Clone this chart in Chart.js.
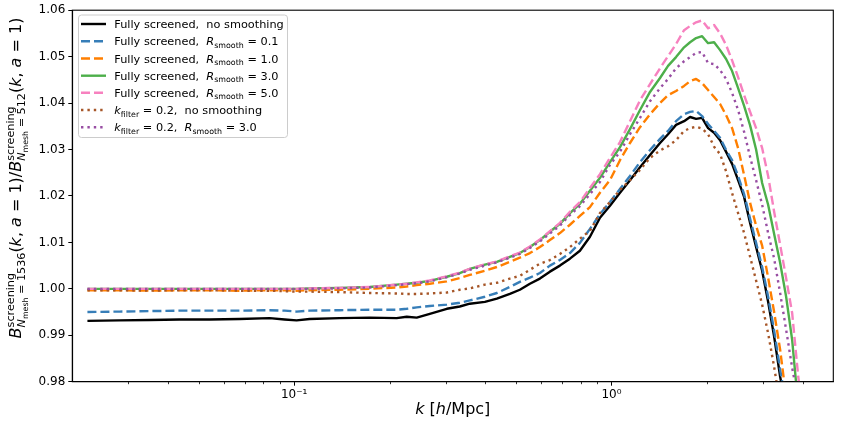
<!DOCTYPE html>
<html><head><meta charset="utf-8">
<script src="https://cdn.jsdelivr.net/npm/chart.js@4.4.1/dist/chart.umd.min.js"></script>
<style>html,body{margin:0;padding:0;background:#fff;}#wrap{width:842px;height:421px;position:relative;}</style>
</head><body><div id="wrap"><canvas id="c" width="842" height="421"></canvas></div>
<script>
// ---- data ----
const kValues = [0.02232, 0.02815, 0.03501, 0.04352, 0.05412, 0.06731, 0.08371, 0.09333, 0.1018, 0.1119,
  0.1391, 0.1730, 0.2105, 0.2264, 0.2434, 0.2676, 0.3028, 0.3327, 0.3577, 0.3991,
  0.4353, 0.4784, 0.5144, 0.5533, 0.5949, 0.6397, 0.6879, 0.7398, 0.7954, 0.8554,
  0.9199, 0.9892, 1.0636, 1.1438, 1.2300, 1.3227, 1.4223, 1.5075, 1.5975, 1.6934,
  1.7687, 1.8475, 1.9299, 2.0157, 2.1055, 2.1991, 2.2970, 2.3992, 2.5060, 2.6176,
  2.7341, 2.8556, 2.9836, 3.1163, 3.2550, 3.3998, 3.5511, 3.7093, 3.8745, 4.0483];

const fullyNoSmooth = [0.9931, 0.9932, 0.9933, 0.9934, 0.9934, 0.9935, 0.9937, 0.9934, 0.9932, 0.9935,
  0.9937, 0.9938, 0.9937, 0.9940, 0.9938, 0.9946, 0.9957, 0.9962, 0.9968, 0.9972,
  0.9979, 0.9989, 0.9998, 1.0011, 1.0022, 1.0037, 1.0050, 1.0065, 1.0082, 1.0112,
  1.0153, 1.0179, 1.0207, 1.0234, 1.0262, 1.0288, 1.0314, 1.0333, 1.0353, 1.0361,
  1.0370, 1.0366, 1.0368, 1.0346, 1.0336, 1.0320, 1.0295, 1.0269, 1.0234, 1.0198,
  1.0142, 1.0090, 1.0039, 0.9972, 0.9897, 0.9811, 0.9740, 0.9680, 0.9620, 0.9560];

const fullyR01 = [0.9950, 0.9951, 0.9952, 0.9953, 0.9953, 0.9953, 0.9954, 0.9953, 0.9951, 0.9953,
  0.9954, 0.9955, 0.9955, 0.9957, 0.9960, 0.9963, 0.9966, 0.9970, 0.9975, 0.9983,
  0.9991, 1.0004, 1.0015, 1.0024, 1.0034, 1.0050, 1.0062, 1.0077, 1.0099, 1.0129,
  1.0161, 1.0187, 1.0215, 1.0243, 1.0273, 1.0299, 1.0323, 1.0340, 1.0361, 1.0376,
  1.0381, 1.0383, 1.0372, 1.0355, 1.0340, 1.0325, 1.0299, 1.0277, 1.0243, 1.0204,
  1.0151, 1.0099, 1.0047, 0.9983, 0.9910, 0.9826, 0.9751, 0.9690, 0.9630, 0.9570];

const fullyR10 = [0.9997, 0.9997, 0.9996, 0.9997, 0.9997, 0.9996, 0.9997, 0.9997, 0.9996, 0.9997,
  0.9998, 1.0000, 1.0003, 1.0005, 1.0008, 1.0011, 1.0016, 1.0023, 1.0030, 1.0039,
  1.0047, 1.0058, 1.0067, 1.0077, 1.0090, 1.0105, 1.0120, 1.0138, 1.0157, 1.0176,
  1.0207, 1.0234, 1.0277, 1.0314, 1.0348, 1.0376, 1.0400, 1.0417, 1.0426, 1.0437,
  1.0447, 1.0452, 1.0443, 1.0428, 1.0413, 1.0398, 1.0374, 1.0346, 1.0303, 1.0245,
  1.0185, 1.0136, 1.0093, 1.0024, 0.9950, 0.9869, 0.9766, 0.9700, 0.9640, 0.9580];

const fullyR30 = [1.0000, 1.0000, 1.0000, 1.0000, 1.0000, 1.0000, 1.0000, 1.0000, 1.0000, 1.0001,
  1.0002, 1.0004, 1.0009, 1.0011, 1.0013, 1.0017, 1.0026, 1.0034, 1.0043, 1.0052,
  1.0058, 1.0069, 1.0077, 1.0090, 1.0105, 1.0123, 1.0140, 1.0163, 1.0183, 1.0211,
  1.0239, 1.0273, 1.0305, 1.0344, 1.0385, 1.0424, 1.0454, 1.0480, 1.0499, 1.0520,
  1.0531, 1.0540, 1.0544, 1.0529, 1.0531, 1.0514, 1.0495, 1.0469, 1.0432, 1.0394,
  1.0352, 1.0300, 1.0228, 1.0181, 1.0118, 1.0056, 0.9983, 0.9890, 0.9750, 0.9680];

const fullyR50 = [1.0000, 1.0000, 1.0000, 1.0000, 1.0000, 1.0000, 1.0000, 1.0000, 1.0000, 1.0001,
  1.0002, 1.0004, 1.0009, 1.0011, 1.0014, 1.0018, 1.0027, 1.0035, 1.0043, 1.0053,
  1.0059, 1.0070, 1.0078, 1.0091, 1.0106, 1.0124, 1.0142, 1.0166, 1.0187, 1.0217,
  1.0247, 1.0282, 1.0316, 1.0361, 1.0406, 1.0441, 1.0475, 1.0501, 1.0527, 1.0557,
  1.0566, 1.0574, 1.0578, 1.0561, 1.0568, 1.0550, 1.0525, 1.0492, 1.0456, 1.0417,
  1.0381, 1.0346, 1.0303, 1.0243, 1.0166, 1.0095, 1.0023, 0.9948, 0.9813, 0.9700];

const filterNoSmooth = [0.9997, 0.9997, 0.9996, 0.9997, 0.9997, 0.9996, 0.9996, 0.9995, 0.9994, 0.9994,
  0.9993, 0.9991, 0.9990, 0.9989, 0.9989, 0.9990, 0.9992, 0.9998, 1.0001, 1.0009,
  1.0013, 1.0022, 1.0028, 1.0041, 1.0054, 1.0062, 1.0075, 1.0090, 1.0108, 1.0125,
  1.0163, 1.0187, 1.0213, 1.0234, 1.0256, 1.0282, 1.0298, 1.0307, 1.0320, 1.0340,
  1.0346, 1.0349, 1.0345, 1.0333, 1.0306, 1.0290, 1.0253, 1.0206, 1.0163, 1.0120,
  1.0069, 1.0018, 0.9966, 0.9904, 0.9832, 0.9750, 0.9700, 0.9650, 0.9600, 0.9550];

const filterR30 = [1.0000, 1.0000, 1.0000, 1.0000, 1.0000, 1.0000, 1.0000, 1.0000, 1.0000, 1.0000,
  1.0001, 1.0003, 1.0008, 1.0010, 1.0012, 1.0016, 1.0025, 1.0033, 1.0041, 1.0050,
  1.0057, 1.0067, 1.0075, 1.0088, 1.0102, 1.0119, 1.0136, 1.0159, 1.0178, 1.0204,
  1.0230, 1.0267, 1.0295, 1.0333, 1.0368, 1.0404, 1.0432, 1.0452, 1.0475, 1.0490,
  1.0499, 1.0508, 1.0510, 1.0486, 1.0484, 1.0471, 1.0452, 1.0422, 1.0385, 1.0338,
  1.0284, 1.0234, 1.0181, 1.0120, 1.0065, 0.9991, 0.9912, 0.9830, 0.9761, 0.9700];

const seriesNames = [
  'Fully screened, no smoothing',
  'Fully screened, R_smooth = 0.1',
  'Fully screened, R_smooth = 1.0',
  'Fully screened, R_smooth = 3.0',
  'Fully screened, R_smooth = 5.0',
  'k_filter = 0.2, no smoothing',
  'k_filter = 0.2, R_smooth = 3.0'
];
const seriesValues = [fullyNoSmooth, fullyR01, fullyR10, fullyR30, fullyR50, filterNoSmooth, filterR30];

const yTickValues = [0.98, 0.99, 1.00, 1.01, 1.02, 1.03, 1.04, 1.05, 1.06];
const xMajorTicks = [0.1, 1];
const xMajorLabels = ['10\u207B\u00B9', '10\u2070'];
const xMinorTicks = [0.03, 0.04, 0.05, 0.06, 0.07, 0.08, 0.09, 0.2, 0.3, 0.4, 0.5, 0.6, 0.7, 0.8, 0.9, 2, 3, 4];

// ---- styles ----
const colors = ['#000000', '#377eb8', '#ff7f00', '#4daf4a', '#f781bf', '#a65628', '#984ea3'];
const LW = 2.4;
const dashes = [[], [9, 4], [9, 4], [], [9, 4], [2.4, 4], [2.4, 4]];
const FONT = '"DejaVu Sans", sans-serif';
function fnt(sz, it) { return (it ? 'italic ' : '') + sz + 'px ' + FONT; }
function segW(ctx, segs) {
  let w = 0;
  for (const s of segs) {
    if (s.stack) w += Math.max(segW(ctx, s.sup), segW(ctx, s.sub));
    else { ctx.font = fnt(s.s, s.i); w += ctx.measureText(s.t).width; }
  }
  return w;
}
function segDraw(ctx, x, y, segs) {
  for (const s of segs) {
    if (s.stack) {
      segDraw(ctx, x, y, s.sup); segDraw(ctx, x, y, s.sub);
      x += Math.max(segW(ctx, s.sup), segW(ctx, s.sub));
    } else {
      ctx.font = fnt(s.s, s.i); ctx.fillText(s.t, x, y + (s.dy || 0));
      x += ctx.measureText(s.t).width;
    }
  }
  return x;
}

// legend rich labels
const L = 11.3, LS = L * 0.7, LD = L * 0.22;
function rsub(v) { return [{t: 'R', s: L, i: true}, {t: 'smooth', s: LS, dy: LD}, {t: ' = ' + v, s: L}]; }
function kfil() { return [{t: 'k', s: L, i: true}, {t: 'filter', s: LS, dy: LD}, {t: ' = 0.2,  ', s: L}]; }
const legendRich = [
  [{t: 'Fully screened,  no smoothing', s: L}],
  [{t: 'Fully screened,  ', s: L}].concat(rsub('0.1')),
  [{t: 'Fully screened,  ', s: L}].concat(rsub('1.0')),
  [{t: 'Fully screened,  ', s: L}].concat(rsub('3.0')),
  [{t: 'Fully screened,  ', s: L}].concat(rsub('5.0')),
  kfil().concat([{t: 'no smoothing', s: L}]),
  kfil().concat(rsub('3.0'))
];

const M = 16, MS = M * 0.7, MSS = M * 0.49;
function bScr(n) {
  return [{t: 'B', s: M, i: true},
    {stack: true,
     sup: [{t: 'screening', s: MS, dy: -M * 0.42}],
     sub: [{t: 'N', s: MS, i: true, dy: M * 0.26}, {t: 'mesh', s: MSS, dy: M * 0.26 + 2.6}, {t: ' = ' + n, s: MS, dy: M * 0.26}]}];
}
const kaOne = [{t: '(', s: M}, {t: 'k', s: M, i: true}, {t: ', ', s: M}, {t: 'a', s: M, i: true}, {t: ' = 1)', s: M}];
const yTitle = bScr('1536').concat(kaOne, [{t: '/', s: M}], bScr('512'), kaOne);
const xTitle = [{t: 'k', s: M, i: true}, {t: ' [', s: M}, {t: 'h', s: M, i: true}, {t: '/Mpc]', s: M}];

const decor = {
  id: 'decor',
  afterDatasetsDraw(chart) {
    const ctx = chart.ctx, a = chart.chartArea;
    ctx.save();
    ctx.strokeStyle = '#000'; ctx.lineWidth = 1.1;
    ctx.strokeRect(a.left, a.top, a.right - a.left, a.bottom - a.top);
    // minor ticks on x axis
    const xs = chart.scales.x;
    ctx.lineWidth = 0.8;
    for (const v of xMinorTicks) {
      const px = Math.round(xs.getPixelForValue(v)) + 0.5;
      ctx.beginPath(); ctx.moveTo(px, a.bottom); ctx.lineTo(px, a.bottom + 2.5); ctx.stroke();
    }
    // legend
    const bx = 78.5, by = 15, bw = 209, bh = 122.5, r = 3;
    ctx.beginPath();
    ctx.moveTo(bx + r, by); ctx.lineTo(bx + bw - r, by); ctx.quadraticCurveTo(bx + bw, by, bx + bw, by + r);
    ctx.lineTo(bx + bw, by + bh - r); ctx.quadraticCurveTo(bx + bw, by + bh, bx + bw - r, by + bh);
    ctx.lineTo(bx + r, by + bh); ctx.quadraticCurveTo(bx, by + bh, bx, by + bh - r);
    ctx.lineTo(bx, by + r); ctx.quadraticCurveTo(bx, by, bx + r, by); ctx.closePath();
    ctx.fillStyle = 'rgba(255,255,255,0.8)'; ctx.fill();
    ctx.strokeStyle = '#cccccc'; ctx.lineWidth = 1; ctx.stroke();
    const rows = [24, 41.3, 58.5, 75.7, 92.8, 110, 127.2];
    for (let i = 0; i < 7; i++) {
      const yy = rows[i];
      ctx.strokeStyle = colors[i]; ctx.lineWidth = LW; ctx.lineCap = 'butt';
      ctx.setLineDash(dashes[i]);
      ctx.beginPath(); ctx.moveTo(81, yy); ctx.lineTo(106, yy); ctx.stroke();
      ctx.setLineDash([]);
      ctx.fillStyle = '#000'; ctx.textBaseline = 'alphabetic'; ctx.textAlign = 'left';
      segDraw(ctx, 114.3, yy + 4.1, legendRich[i]);
    }
    // axis titles
    ctx.fillStyle = '#000';
    const xw = segW(ctx, xTitle);
    segDraw(ctx, (a.left + a.right) / 2 - xw / 2, 414, xTitle);
    const yw = segW(ctx, yTitle);
    ctx.translate(21, 178); ctx.rotate(-Math.PI / 2);
    segDraw(ctx, -yw / 2, 0, yTitle);
    ctx.restore();
  }
};

const datasets = seriesValues.map((vals, i) => ({
  label: seriesNames[i],
  data: kValues.map((k, j) => ({x: k, y: vals[j]})),
  borderColor: colors[i],
  borderWidth: LW,
  borderDash: dashes[i],
  borderCapStyle: 'butt',
  borderJoinStyle: 'round',
  pointRadius: 0,
  fill: false,
  tension: 0,
  clip: 0,
  order: 7 - i
}));

new Chart(document.getElementById('c'), {
  type: 'line',
  data: {datasets},
  options: {
    responsive: false,
    animation: false,
    devicePixelRatio: 1,
    layout: {padding: {left: 0, top: 10, right: 8.7, bottom: 0}},
    plugins: {legend: {display: false}, tooltip: {enabled: false}},
    scales: {
      x: {
        type: 'logarithmic', min: 0.02, max: 5,
        afterBuildTicks: (s) => { s.ticks = xMajorTicks.map(v => ({value: v, major: true})); },
        afterFit: (s) => { s.height = 39.3; },
        ticks: {callback: (v, i) => xMajorLabels[i], font: {family: 'DejaVu Sans', size: 12}, color: '#000', padding: 2, maxRotation: 0, autoSkip: false},
        grid: {drawOnChartArea: false, drawTicks: true, tickLength: 4, tickColor: '#000', tickWidth: 1},
        border: {display: true, color: '#000', width: 1.1}
      },
      y: {
        type: 'linear', min: 0.98, max: 1.06,
        afterBuildTicks: (s) => { s.ticks = yTickValues.map(v => ({value: v})); },
        afterFit: (s) => { s.width = 72.3; },
        ticks: {callback: (v, i) => yTickValues[i].toFixed(2), font: {family: 'DejaVu Sans', size: 12}, color: '#000', padding: 3, autoSkip: false},
        grid: {drawOnChartArea: false, drawTicks: true, tickLength: 4, tickColor: '#000', tickWidth: 1},
        border: {display: true, color: '#000', width: 1.1}
      }
    }
  },
  plugins: [decor]
});
</script></body></html>
